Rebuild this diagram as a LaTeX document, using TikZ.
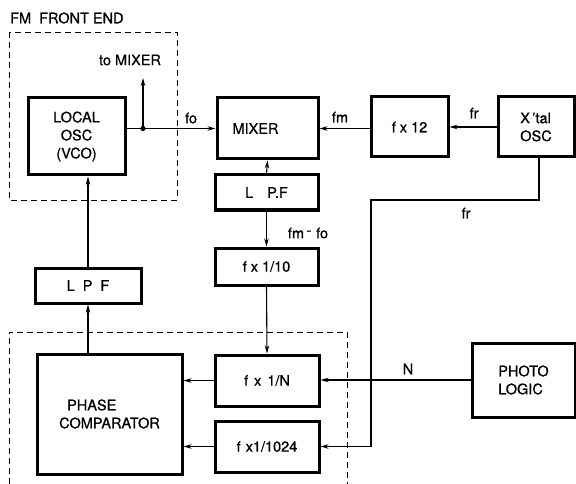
\documentclass[tikz,border=0pt]{standalone}
\usepackage{fontspec}
\setmainfont[FakeBold=0.8]{TeX Gyre Heros}
\usetikzlibrary{arrows.meta}
\begin{document}
\begin{tikzpicture}[x=1pt,y=-1pt,
  font=\fontsize{14.5}{18}\selectfont,
  blk/.style={draw,line width=3pt,inner sep=0pt,align=center},
  conn/.style={line width=1.1pt},
  arr/.style={conn,-{Stealth[length=8pt,width=4.5pt]}},
  dbox/.style={line width=0.9pt,dash pattern=on 6pt off 4pt},
  lbl/.style={inner sep=0pt}]
\useasboundingbox (0,0) rectangle (576,484);
% dashed enclosures
\draw[dbox] (9,32) rectangle (177,200);
\draw[dbox] (9,484) -- (9,332) -- (347,332) -- (347,484);
\node[lbl,anchor=west] (fmfe) at (10,18) {FM\ \ FRONT END};
% blocks
\node[blk,minimum width=97pt,minimum height=77pt] (LO) at (76.5,136.5) {LOCAL\\OSC\\(VCO)};
\node[blk,minimum width=101pt,minimum height=61pt] (MX) at (267.5,128.5) {MIXER\hspace{24pt}};
\node[blk,minimum width=77pt,minimum height=60pt] (F12) at (409.5,127) {f x 12};
\node[blk,minimum width=76pt,minimum height=60pt,align=left] (XO) at (536,127) {X\,’tal\\OSC};
\node[blk,minimum width=103pt,minimum height=35pt] (LPF1) at (266.5,192.5) {L\hspace{14pt}P.F};
\node[blk,minimum width=103pt,minimum height=37pt] (F10) at (266.5,266.5) {f x 1/10};
\node[blk,minimum width=106pt,minimum height=35pt] (LPF2) at (88,285.5) {L\hspace{8pt}P\hspace{8pt}F};
\node[blk,minimum width=145pt,minimum height=120pt,align=left] (PC) at (109.5,414) {\hspace{8pt}PHASE\\COMPARATOR};
\node[blk,minimum width=104pt,minimum height=51pt] (FN) at (267,380.5) {f\hspace{6pt}x\hspace{6pt}1/N};
\node[blk,minimum width=104pt,minimum height=51pt] (F1024) at (267,446.5) {f\hspace{5pt}x1/1024};
\node[blk,minimum width=103pt,minimum height=74pt,align=left] (PL) at (523.5,380) {PHOTO\\LOGIC};
% connectors
\coordinate (j) at (143,128.5);
\coordinate (tm) at (143,78);
\draw[arr] (LO.east |- MX.west) -- (MX.west);
\fill (j) circle (2.6pt);
\draw[arr] (j) -- (tm);
\node[lbl] (tmx) at (130,60) {to MIXER};
\node[lbl] (fo) at (191,118) {fo};
\draw[arr] (XO.west) -- (F12.east);
\node[lbl] (fr1) at (474,113) {fr};
\draw[arr] (F12.west |- MX.east) -- (MX.east);
\node[lbl] (fm) at (340,117) {fm};
\draw[arr] (LPF1.north) -- (MX.south);
\draw[arr] (LPF1.south) -- (F10.north);
\node[lbl] (fmfo) at (308,233) {fm\,\raisebox{3pt}{-}\,\,fo};
\draw[arr] (F10.south) -- (FN.north);
\draw[arr] (FN.west) -- (FN.west -| PC.east);
\draw[arr] (F1024.west) -- (F1024.west -| PC.east);
\draw[arr] (PL.west) -- (PL.west -| FN.east);
\node[lbl] (N) at (408,369) {N};
\coordinate (c1) at (539,200);
\coordinate (c2) at (371,200);
\coordinate (c3) at (371,446.5);
\draw[arr] (XO.south -| c1) -- (c1) -- (c2) -- (c3) -- (F1024.east);
\node[lbl] (fr2) at (466,213) {fr};
\draw[arr] (PC.north -| LPF2.south) -- (LPF2.south);
\draw[arr] (LPF2.north) -- (LPF2.north |- LO.south);
\end{tikzpicture}
\end{document}
